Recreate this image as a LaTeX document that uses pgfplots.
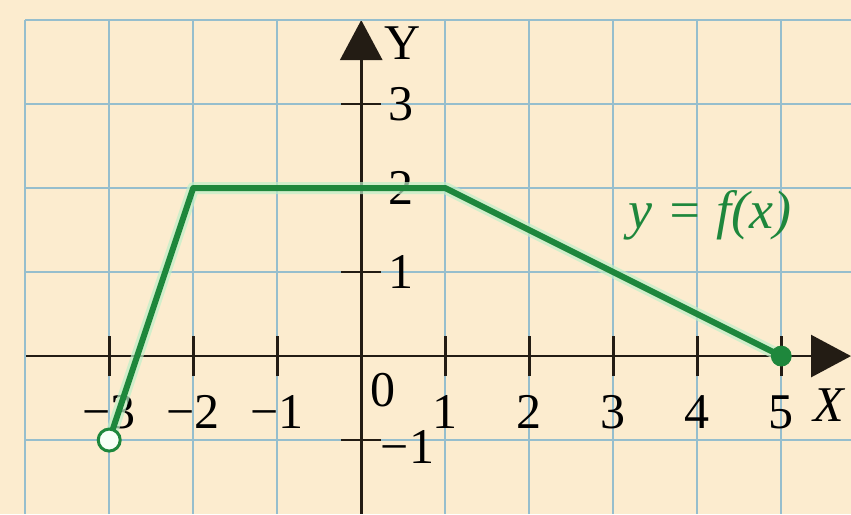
\documentclass[border=0pt]{standalone}
\usepackage{fontspec}
\setmainfont{Liberation Serif}
\usepackage{pgfplots}
\pgfplotsset{compat=1.18}
\usetikzlibrary{arrows.meta}

\definecolor{paper}{RGB}{252,236,207}
\definecolor{gridblue}{RGB}{150,190,205}
\definecolor{graphgreen}{RGB}{30,135,60}
\definecolor{glow}{RGB}{190,240,200}
\definecolor{axisdark}{RGB}{35,28,20}

\begin{document}
\begin{tikzpicture}
% page background (42pt per unit)
\fill[paper] (-12.6pt,0pt) rectangle (412.9pt,257pt);
\path[use as bounding box] (-12.6pt,0pt) rectangle (412.9pt,257pt);
\begin{axis}[
  at={(0pt,0pt)}, anchor=south west,
  scale only axis,
  width=412.9pt, height=246.96pt,
  xmin=-4, xmax=5.83, ymin=-1.88, ymax=4,
  axis lines=middle,
  axis line style={line width=1.4pt, color=axisdark,
    -{Triangle[width=21pt,length=20pt]}},
  clip=false,
  grid=major,
  major grid style={line width=1pt, color=gridblue},
  tick style={line width=1.3pt, color=axisdark},
  major tick length=20pt,
  tick align=center,
  xtick={-3,-2,-1,1,2,3,4,5},
  xticklabels={−3,−2,−1,1,2,3,4,5},
  ytick={-1,1,2,3},
  yticklabels={,1,2,3},
  extra x ticks={-4},
  extra y ticks={4},
  extra tick style={major tick length=0pt, grid=major},
  extra x tick labels={},
  extra y tick labels={},
  xticklabel style={anchor=center, font=\fontsize{25}{25}\selectfont, yshift=-18pt},
  yticklabel style={anchor=west, font=\fontsize{25}{25}\selectfont, xshift=20pt},
  /pgf/number format/assume math mode=true,
]
% soft halo under the graph
\addplot[glow, line width=6pt, line join=round, opacity=0.7, forget plot]
  coordinates {(-3,-1) (-2,2) (1,2) (5,0)};
\addplot[graphgreen, line width=3pt, line join=round]
  coordinates {(-3,-1) (-2,2) (1,2) (5,0)};
% endpoints: excluded at x=-3, included at x=5
\addplot[only marks, mark=*, mark size=5.5pt,
  mark options={draw=graphgreen, fill=white!85!green!20, line width=1.5pt}]
  coordinates {(-3,-1)};
\addplot[only marks, mark=*, mark size=5pt,
  mark options={draw=graphgreen, fill=graphgreen}]
  coordinates {(5,0)};
\node[font=\fontsize{25}{25}\selectfont] at (axis cs:0.26,-0.40) {0};
% the -1 of the y axis sits below its tick, right of the axis
\node[font=\fontsize{25}{25}\selectfont] at (axis cs:0.55,-1.08) {−1};
\node[font=\fontsize{25}{25}\selectfont] at (axis cs:0.49,3.73) {Y};
\node[font=\fontsize{25}{25}\selectfont\itshape, anchor=east] at (axis cs:5.83,-0.58) {X};
\node[font=\fontsize{27}{27}\selectfont\itshape, text=graphgreen] at (axis cs:4.15,1.68) {y = f(x)};
\end{axis}
\end{tikzpicture}
\end{document}
